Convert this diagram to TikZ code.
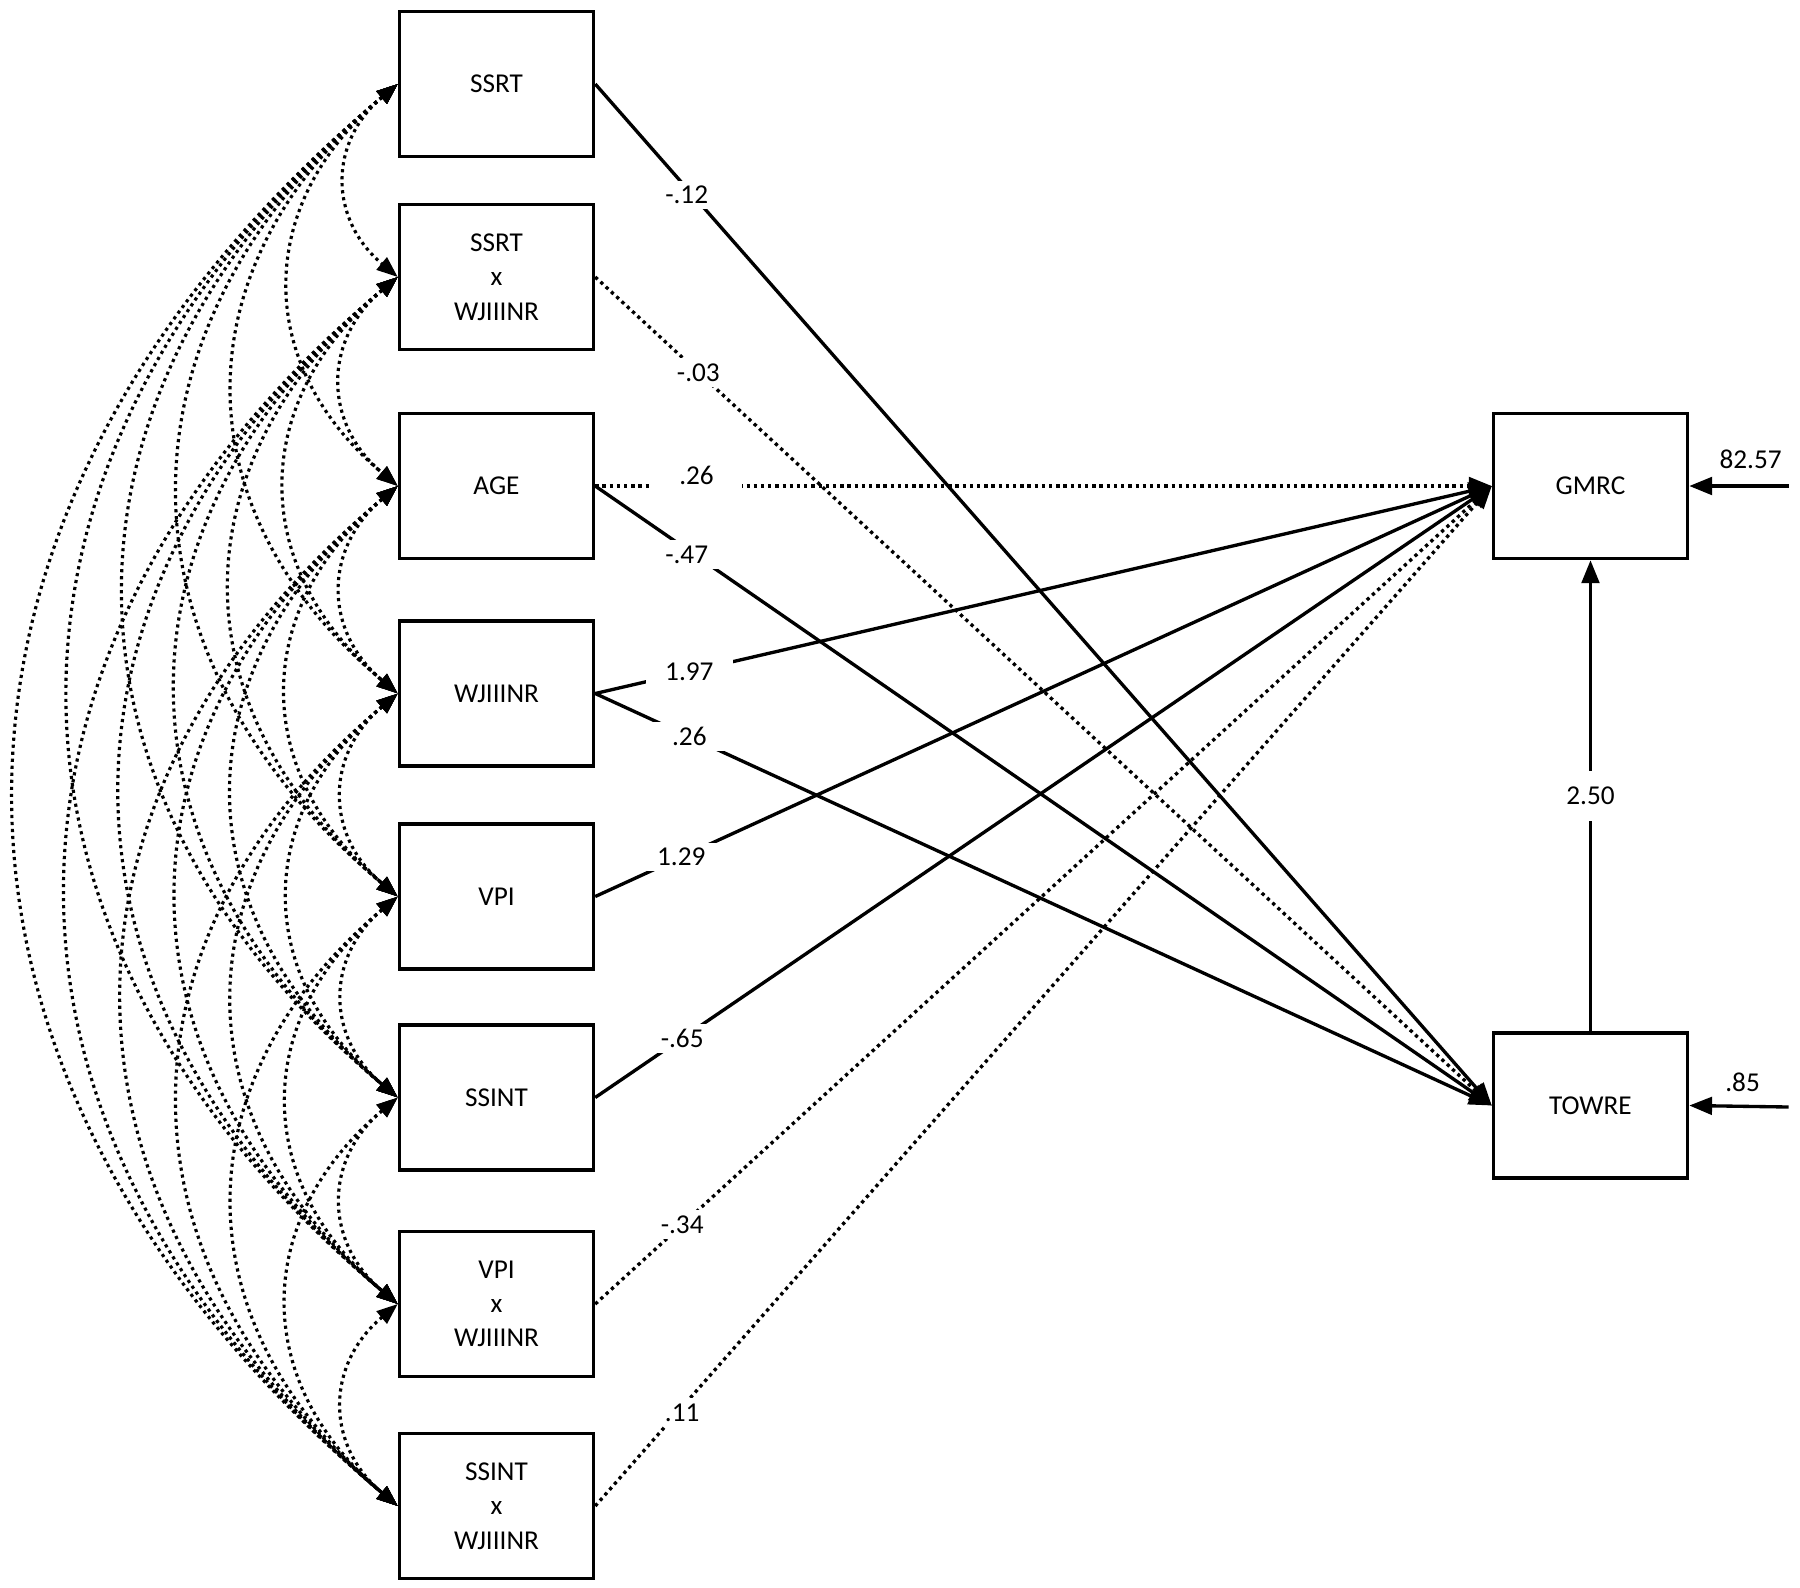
\documentclass[tikz,border=0pt]{standalone}
\usepackage{fontspec}
\setmainfont{Carlito}
\usetikzlibrary{arrows.meta}
\begin{document}
\begin{tikzpicture}[x=0.02cm,y=-0.02cm,
  box/.style={draw, line width=2pt, minimum width=3.88cm, minimum height=2.9cm, align=center, inner sep=0pt, font=\fontsize{15.5}{19.5}\selectfont},
  reg/.style={line width=1.9pt, -{Triangle[length=13pt,width=10pt]}},
  dreg/.style={reg, dash pattern=on 1.9pt off 2.2pt},
  cov/.style={line width=1.8pt, dash pattern=on 1.8pt off 2.2pt, {Triangle[length=12pt,width=9pt]}-{Triangle[length=12pt,width=9pt]}},
  lbl/.style={fill=white, inner xsep=7pt, inner ysep=3pt, font=\fontsize{15.5}{18}\selectfont},
]
\useasboundingbox (0,0) rectangle (1800,1587);
% exogenous boxes
\node[box] (x1) at (496.5,84) {SSRT};
\node[box] (x2) at (496.5,277) {SSRT\\x\\WJIIINR};
\node[box] (x3) at (496.5,486) {AGE};
\node[box] (x4) at (496.5,693.5) {WJIIINR};
\node[box] (x5) at (496.5,896.5) {VPI};
\node[box] (x6) at (496.5,1097.5) {SSINT};
\node[box] (x7) at (496.5,1304) {VPI\\x\\WJIIINR};
\node[box] (x8) at (496.5,1506) {SSINT\\x\\WJIIINR};
% endogenous boxes
\node[box] (gmrc) at (1590.5,486) {GMRC};
\node[box] (towre) at (1590.5,1105.5) {TOWRE};
% covariances
\foreach \i in {1,...,7}{
  \pgfmathtruncatemacro\k{\i+1}
  \foreach \j in {\k,...,8}{
    \draw[cov] (x\i.west) to[bend right=50,looseness=1.2] (x\j.west);
  }
}
% regression paths
\draw[reg]  (x1.east) -- node[lbl,pos=0.102,yshift=-4pt] (l1) {-.12} (towre.west);
\draw[dreg] (x2.east) -- node[lbl,pos=0.115] (l2) {-.03} (towre.west);
\draw[dreg] (x3.east) -- node[lbl,pos=0.113,yshift=6pt,inner xsep=16pt,inner ysep=6pt] (l3) {.26} (gmrc.west);
\draw[reg]  (x3.east) -- node[lbl,pos=0.102,yshift=-3pt] (l4) {-.47} (towre.west);
\draw[reg]  (x4.east) -- node[lbl,pos=0.105,inner xsep=11pt] (l5) {1.97} (gmrc.west);
\draw[reg]  (x4.east) -- node[lbl,pos=0.105,inner xsep=11pt] (l6) {.26} (towre.west);
\draw[reg]  (x5.east) -- node[lbl,pos=0.096,inner xsep=11pt] (l7) {1.29} (gmrc.west);
\draw[reg]  (x6.east) -- node[lbl,pos=0.097,inner xsep=11pt] (l8) {-.65} (gmrc.west);
\draw[dreg] (x7.east) -- node[lbl,pos=0.097,inner xsep=11pt] (l9) {-.34} (gmrc.west);
\draw[dreg] (x8.east) -- node[lbl,pos=0.097,inner xsep=11pt,yshift=-3pt] (l10) {.11} (gmrc.west);
\draw[reg]  (towre.north) -- node[lbl,inner xsep=4pt,inner ysep=9pt] (l11) {2.50} (gmrc.south);
% residuals
\coordinate (eg) at (1788.6,486);
\coordinate (et) at (1788.6,1107);
\draw[reg] (eg) -- (gmrc.east);
\draw[reg] (et) -- (towre.east);
\node[font=\fontsize{15.5}{18}\selectfont] (rg) at (1750.6,459) {82.57};
\node[font=\fontsize{15.5}{18}\selectfont] (rt) at (1742.6,1082.5) {.85};
\end{tikzpicture}
\end{document}
